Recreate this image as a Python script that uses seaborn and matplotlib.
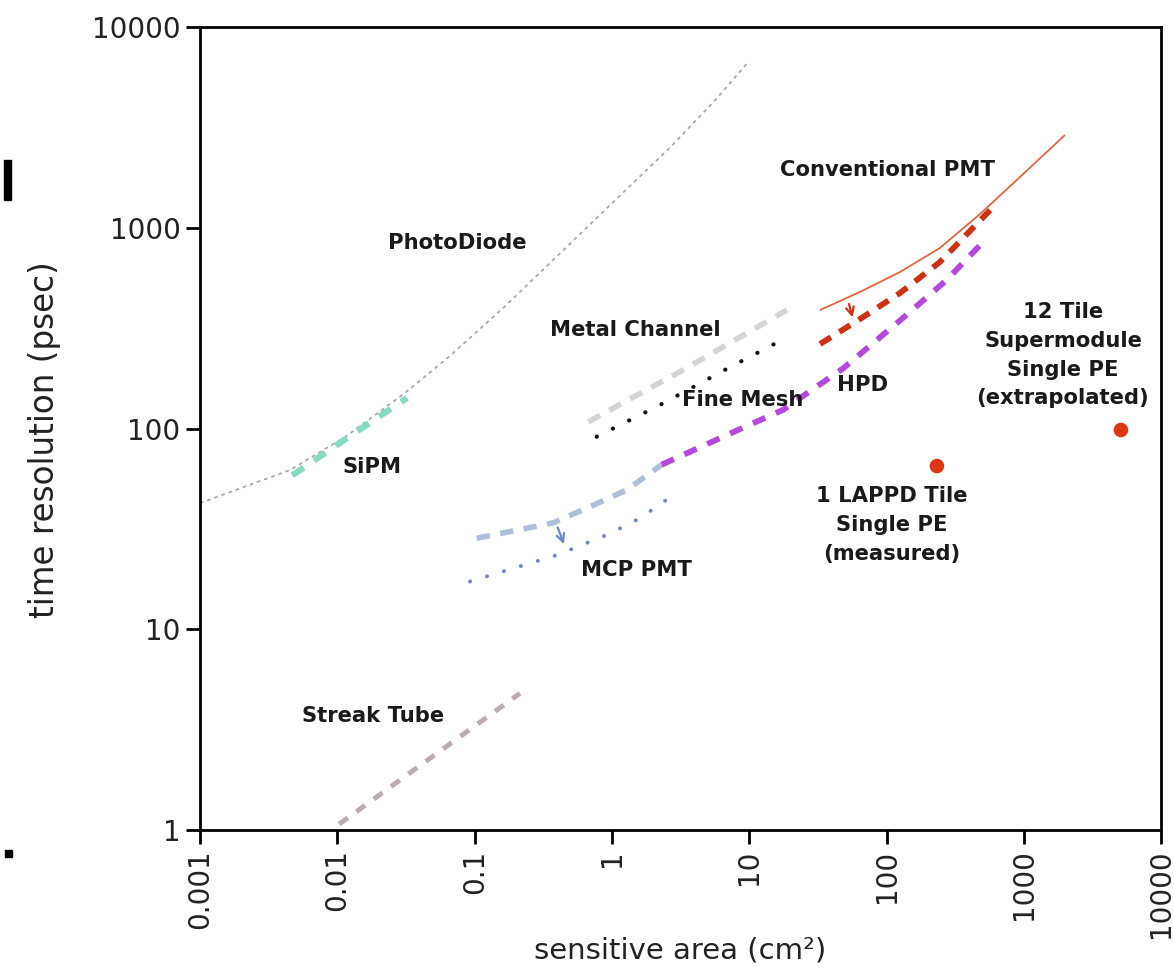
import matplotlib
matplotlib.use("Agg")
import matplotlib.pyplot as plt
import seaborn as sns
import pandas as pd
from matplotlib.patches import Rectangle

sns.set_style("white")
plt.rcParams['font.family'] = ['DejaVu Sans']

# ---------------- data (area cm^2, time resolution ps) ----------------
photodiode_x = [0.001, 0.00452, 0.01146, 0.0309, 0.0652, 0.165, 0.419, 1.06, 2.69, 5.66, 9.9]
photodiode_y = [42.5, 62.1, 91.0, 149.8, 228, 404, 746, 1375, 2535, 4327, 6714]

sipm_x = [0.0047, 0.0117, 0.0322]
sipm_y = [58.5, 89.4, 142]

conv_pmt_x = [32.8, 64.1, 125.4, 245, 480, 938, 1995]
conv_pmt_y = [389, 479, 602, 793, 1171, 1790, 2897]

conv_pmt_new_x = [32.8, 64.1, 125.4, 245, 638]
conv_pmt_new_y = [263.6, 351, 473, 675, 1328]

hpd_x = [2.3, 7.66, 17.7, 48.4, 140, 274, 505]
hpd_y = [66.0, 96, 124, 199.5, 368, 549, 849]

mcp_x = [0.1035, 0.374, 0.693, 1.28, 2.3]
mcp_y = [28.4, 33.9, 40.8, 49.4, 66.0]

mcp_new_x = [0.0925, 0.396, 0.917, 1.60, 2.65]
mcp_new_y = [17.3, 23.4, 29.5, 35.7, 45.4]

metal_x = [0.673, 3.31, 18.8]
metal_y = [108, 196, 389]

finemesh_x = [0.774, 2.24, 6.66, 19.3]
finemesh_y = [91, 131, 196, 287]

streak_x = [0.0103, 0.214]
streak_y = [1.07, 4.8]

lappd_x = [233, 5100]
lappd_y = [65, 98.3]

labels = ["PhotoDiode", "Metal Channel", "Fine Mesh", "HPD", "SiPM", "MCP PMT",
          "Streak Tube", "Conventional PMT",
          "12 Tile\nSupermodule\nSingle PE\n(extrapolated)",
          "1 LAPPD Tile\nSingle PE\n(measured)"]
label_x = [0.0745, 1.47, 8.9, 67.4, 0.0179, 1.52, 0.0182, 102.5, 1930, 110]
label_y = [839, 310, 139, 165, 64.3, 19.7, 3.70, 1940, 232, 33.0]

x_ticks = [0.001, 0.01, 0.1, 1, 10, 100, 1000, 10000]
x_ticklabels = ["0.001", "0.01", "0.1", "1", "10", "100", "1000", "10000"]
y_ticks = [1, 10, 100, 1000, 10000]
y_ticklabels = ["1", "10", "100", "1000", "10000"]

# ---------------- figure ----------------
fig = plt.figure(figsize=(11.74, 9.71), dpi=100)
ax = fig.add_axes([0.1704, 0.1452, 0.8186, 0.827])
ax.set_xscale("log")
ax.set_yscale("log")
ax.set_xlim(0.001, 10000)
ax.set_ylim(1, 10000)


def line(xs, ys, color, lw, ls, cap="butt"):
    df = pd.DataFrame({"x": xs, "y": ys})
    sns.lineplot(data=df, x="x", y="y", sort=False, estimator=None, ax=ax,
                 color=color, linewidth=lw, linestyle=ls, legend=False)
    ln = ax.lines[-1]
    ln.set_dash_capstyle(cap)
    ln.set_solid_capstyle(cap)
    ln.set_solid_joinstyle("round")
    ln.set_dash_joinstyle("round")


line(photodiode_x, photodiode_y, "#a8a8a8", 1.3, (0, (2, 2.2)))
line(sipm_x, sipm_y, "#86dcc2", 4.5, (0, (2.2, 2.0)))
line(streak_x, streak_y, "#bcaab4", 3.5, (0, (2.2, 2.2)))
line(metal_x, metal_y, "#d4d4d4", 4.0, (0, (2.4, 1.9)))
line(finemesh_x, finemesh_y, "#111111", 3.0, (0, (0.05, 4.3)), cap="round")
line(mcp_x, mcp_y, "#adbfda", 4.0, (0, (2.4, 1.9)))
line(mcp_new_x, mcp_new_y, "#6f86c6", 2.8, (0, (0.05, 4.5)), cap="round")
line(hpd_x, hpd_y, "#b548dc", 4.2, (0, (2.3, 2.0)))
line(conv_pmt_x, conv_pmt_y, "#e2653f", 1.3, "-")
line(conv_pmt_new_x, conv_pmt_new_y, "#cc3210", 4.2, (0, (2.2, 1.7)))

sns.scatterplot(x=lappd_x, y=lappd_y, ax=ax, color="#dd3611", s=110,
                edgecolor="none", legend=False, zorder=5)

# arrows
ax.annotate("", xy=(57.3, 347), xytext=(52.7, 430),
            arrowprops=dict(arrowstyle="->", color="#cc3210", lw=1.6,
                            mutation_scale=14))
ax.annotate("", xy=(0.455, 25.8), xytext=(0.396, 33.1),
            arrowprops=dict(arrowstyle="->", color="#6f86c6", lw=1.6,
                            mutation_scale=14))

for t, lx, ly in zip(labels, label_x, label_y):
    ax.text(lx, ly, t, ha="center", va="center", fontsize=15.2,
            fontweight="bold", color="#1a1a1a", linespacing=1.55)

# axes styling
for s in ax.spines.values():
    s.set_color("black")
    s.set_linewidth(2.0)
ax.set_xticks(x_ticks)
ax.set_xticklabels(x_ticklabels, rotation=90)
ax.set_yticks(y_ticks)
ax.set_yticklabels(y_ticklabels)
ax.minorticks_off()
ax.tick_params(axis="both", which="major", direction="out", length=10, width=2,
               color="black", labelsize=20, labelcolor="#222222",
               bottom=True, left=True, top=False, right=False, pad=4)
ax.set_xlabel("sensitive area (cm²)", fontsize=21, color="#222222")
ax.set_ylabel("time resolution (psec)", fontsize=23.5, color="#222222")
ax.xaxis.set_label_coords(0.5, -0.133)
ax.yaxis.set_label_coords(-0.145, 0.486)

# stray marks at the edge of the original picture
fig.patches.append(Rectangle((4 / 1174, 1 - 200 / 971), 7 / 1174, 40 / 971,
                             transform=fig.transFigure, color="black"))
fig.patches.append(Rectangle((5 / 1174, 1 - 857 / 971), 7 / 1174, 7 / 971,
                             transform=fig.transFigure, color="black"))

fig.savefig("out.png", dpi=100, facecolor="white")
